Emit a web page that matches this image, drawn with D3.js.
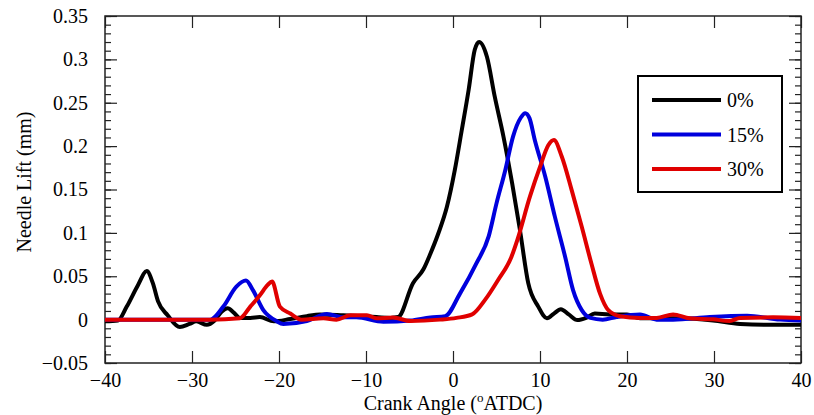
<!DOCTYPE html>
<html>
<head>
<meta charset="utf-8">
<script src="https://cdn.jsdelivr.net/npm/d3@7"></script>
<style>
  body { margin: 0; background: #fff; }
  text { font-family: "Liberation Serif", "Times New Roman", "DejaVu Serif", serif; fill: #000; }
</style>
</head>
<body>
<svg id="lift-chart"></svg>
<script>
// series names and colours
let seriesNames = ['0%', '15%', '30%'];
let seriesColors = ['#000000', '#0000dd', '#e00000'];

// crank angle (deg ATDC) and needle lift (mm)
let angle0 = [-40, -38.5, -37.5, -36.2, -35.2, -34.5, -33.9, -32.8, -31.4, -30.3, -29.5, -28.3, -27.4, -26.6, -25.9, -25.2, -24.5, -23.3, -22.2, -20.6, -18.7, -16.8, -15.3, -12.6, -8.8, -7.2, -6.3, -4.6, -3.4, -2.6, -1.7, -0.7, 0.2, 1.0, 1.8, 2.5, 3.0, 3.9, 4.8, 5.8, 6.8, 7.7, 8.65, 9.8, 10.8, 11.6, 12.4, 13.3, 14.3, 15.3, 16.3, 18, 20, 21.5, 26.1, 29.9, 33, 36.8, 40];
let lift0 = [-0.002, -0.001, 0.015, 0.04, 0.056, 0.042, 0.021, 0.005, -0.0085, -0.005, -0.002, -0.006, -0.001, 0.009, 0.013, 0.008, 0.002, 0.002, 0.003, -0.002, 0.0007, 0.004, 0.006, 0.005, 0.003, 0.002, 0.003, 0.042, 0.058, 0.076, 0.099, 0.130, 0.172, 0.218, 0.265, 0.311, 0.320, 0.303, 0.257, 0.211, 0.157, 0.103, 0.042, 0.015, 0.0015, 0.007, 0.012, 0.006, -0.0005, 0.002, 0.007, 0.006, 0.006, 0.0015, 0.0015, -0.001, -0.005, -0.006, -0.006];

let angle15 = [-40, -30, -27.9, -26.4, -24.9, -23.8, -23.0, -21.8, -20.3, -19.5, -16.8, -14.5, -12.6, -11.1, -8, -4.9, -2.6, -0.9, 0.8, 2.7, 4.1, 5.0, 6.0, 6.9, 7.8, 8.3, 8.8, 9.4, 10.6, 11.7, 12.9, 13.8, 14.8, 15.8, 17.2, 18.8, 21.5, 23.4, 25.3, 29.5, 33.8, 37.6, 40];
let lift15 = [0, 0, 0, 0.015, 0.038, 0.045, 0.034, 0.011, -0.0016, -0.005, -0.0016, 0.0065, 0.0026, 0.0026, -0.0024, -0.001, 0.0026, 0.004, 0.030, 0.065, 0.096, 0.134, 0.172, 0.211, 0.233, 0.238, 0.232, 0.207, 0.165, 0.119, 0.072, 0.034, 0.011, 0.002, 0, 0.003, 0.006, 0, 0, 0.003, 0.0045, 0, -0.001];

let angle30 = [-40, -30, -27.9, -24.5, -23.3, -22.2, -21.3, -20.8, -19.9, -18.7, -17.4, -14.9, -13.4, -11.8, -9.9, -8.8, -6.9, -4.9, -1.5, 0.4, 2.2, 3.7, 5.2, 6.7, 7.4, 8.85, 10.0, 10.95, 11.6, 12.5, 13.65, 14.8, 15.9, 16.9, 17.85, 19.2, 21.5, 23.4, 25.3, 27.2, 29.9, 31.8, 33, 36.8, 40];
let lift30 = [0, 0, 0, 0.0015, 0.015, 0.028, 0.040, 0.044, 0.015, 0.007, 0, 0.0015, 0, 0.005, 0.005, 0.0015, 0.0025, -0.0016, 0, 0.002, 0.006, 0.023, 0.046, 0.072, 0.092, 0.142, 0.176, 0.201, 0.207, 0.188, 0.149, 0.107, 0.065, 0.030, 0.011, 0.004, 0.002, 0.002, 0.006, 0.0015, 0.0003, -0.0016, 0.002, 0.0026, 0.002];

let xTicks = [-40, -30, -20, -10, 0, 10, 20, 30, 40];
let yTicks = [-0.05, 0, 0.05, 0.1, 0.15, 0.2, 0.25, 0.3, 0.35];

let serif = '"Liberation Serif", "Times New Roman", "DejaVu Serif", serif';

// svg setup
let width = 814;
let height = 415;
let margin = { top: 16, right: 13, bottom: 52, left: 105 };
let plotWidth = width - margin.left - margin.right;
let plotHeight = height - margin.top - margin.bottom;

let svg = d3.select('#lift-chart').attr('width', width).attr('height', height);

function translate(x, y) {
  return 'translate(' + x + ',' + y + ')';
}

let x = d3.scaleLinear().domain([-40, 40]).range([0, plotWidth]);
let y = d3.scaleLinear().domain([-0.05, 0.35]).range([plotHeight, 0]);

let plot = svg.append('g').attr('transform', translate(margin.left, margin.top));

// minor ticks on y, every 0.01
let minorY = d3.range(-0.05, 0.3501, 0.01);

let yLeft = d3.axisLeft(y).tickValues(minorY).tickSize(-6).tickFormat('');
let yRight = d3.axisRight(y).tickValues(minorY).tickSize(-6).tickFormat('');
let yLeftMajor = d3.axisLeft(y).tickValues(yTicks).tickSize(-12).tickPadding(17).tickFormat(d3.format('~g'));
let yRightMajor = d3.axisRight(y).tickValues(yTicks).tickSize(-12).tickFormat('');
let xBottom = d3.axisBottom(x).tickValues(xTicks).tickSize(-12).tickPadding(10).tickFormat(d3.format('d'));
let xTop = d3.axisTop(x).tickValues(xTicks).tickSize(-12).tickFormat('');

plot.append('g').attr('class', 'axis').call(yLeft);
plot.append('g').attr('class', 'axis').call(yLeftMajor);
plot.append('g').attr('class', 'axis').attr('transform', translate(plotWidth, 0)).call(yRight);
plot.append('g').attr('class', 'axis').attr('transform', translate(plotWidth, 0)).call(yRightMajor);
plot.append('g').attr('class', 'axis').attr('transform', translate(0, plotHeight)).call(xBottom);
plot.append('g').attr('class', 'axis').call(xTop);

plot.selectAll('.axis').attr('font-family', serif).attr('font-size', 20);
plot.selectAll('.axis .domain').remove();
plot.selectAll('.axis line').attr('stroke', '#222').attr('stroke-width', 1.2);
plot.selectAll('.axis text')
  .style('font-family', serif)
  .style('font-size', '20px')
  .attr('fill', '#000');

// frame
plot.append('rect')
  .attr('x', 0).attr('y', 0)
  .attr('width', plotWidth).attr('height', plotHeight)
  .attr('fill', 'none').attr('stroke', '#222').attr('stroke-width', 1.5);

// curves
let series = [
  { name: seriesNames[0], color: seriesColors[0], pts: angle0.map((a, i) => [a, lift0[i]]) },
  { name: seriesNames[1], color: seriesColors[1], pts: angle15.map((a, i) => [a, lift15[i]]) },
  { name: seriesNames[2], color: seriesColors[2], pts: angle30.map((a, i) => [a, lift30[i]]) }
];

let line = d3.line()
  .x(d => x(d[0]))
  .y(d => y(d[1]))
  .curve(d3.curveMonotoneX);

plot.append('defs').append('clipPath').attr('id', 'clip')
  .append('rect').attr('width', plotWidth).attr('height', plotHeight);

plot.append('g').attr('clip-path', 'url(#clip)')
  .selectAll('path')
  .data(series)
  .enter().append('path')
  .attr('d', d => line(d.pts))
  .attr('fill', 'none')
  .attr('stroke', d => d.color)
  .attr('stroke-width', 4)
  .attr('stroke-linejoin', 'round');

// legend
let legend = svg.append('g').attr('transform', translate(638, 76));
legend.append('rect')
  .attr('width', 144).attr('height', 116)
  .attr('fill', '#fff').attr('stroke', '#000').attr('stroke-width', 2);

let items = legend.selectAll('.item')
  .data(series)
  .enter().append('g')
  .attr('transform', (d, i) => translate(0, 24 + i * 34.5));

items.append('line')
  .attr('x1', 14).attr('x2', 83)
  .attr('stroke', d => d.color).attr('stroke-width', 4);

items.append('text')
  .attr('x', 89).attr('y', 7)
  .style('font-family', serif)
  .style('font-size', '20px')
  .text(d => d.name);

// y label
svg.append('text')
  .attr('transform', translate(31, 182) + ' rotate(-90)')
  .style('text-anchor', 'middle')
  .style('font-family', serif)
  .style('font-size', '20px')
  .text('Needle Lift (mm)');

// x label with superscript
let xLabel = svg.append('text')
  .attr('x', margin.left + plotWidth / 2)
  .attr('y', 410)
  .style('text-anchor', 'middle')
  .style('font-family', serif)
  .style('font-size', '20px');
xLabel.append('tspan').text('Crank Angle (');
xLabel.append('tspan').attr('dy', -8).style('font-size', '13px').text('o');
xLabel.append('tspan').attr('dy', 8).text('ATDC)');
</script>
</body>
</html>
